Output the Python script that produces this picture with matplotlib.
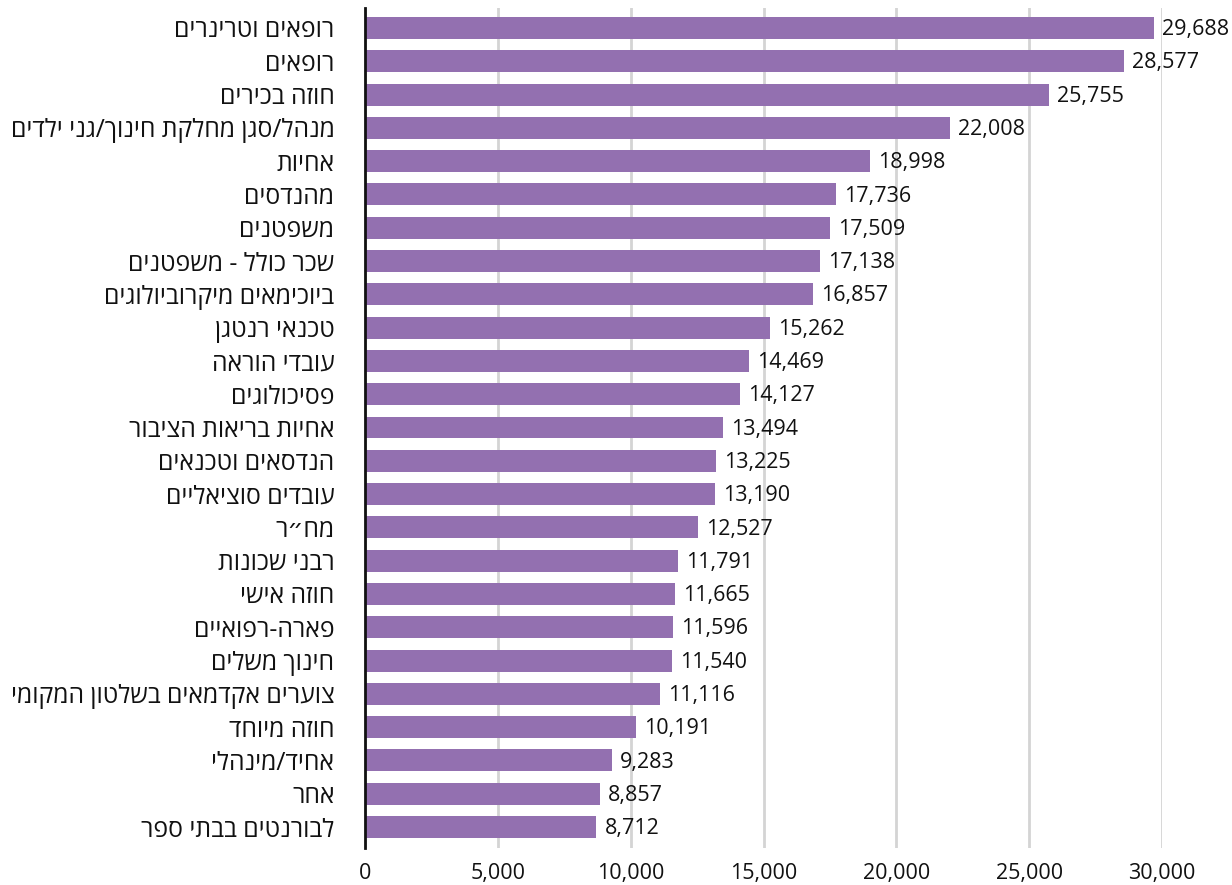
import matplotlib
matplotlib.use("Agg")
import matplotlib.pyplot as plt
from matplotlib.ticker import FuncFormatter

categories = [
    "רופאים וטרינרים", "רופאים", "חוזה בכירים", "מנהל/סגן מחלקת חינוך/גני ילדים",
    "אחיות", "מהנדסים", "משפטנים", "שכר כולל - משפטנים", "ביוכימאים מיקרוביולוגים",
    "טכנאי רנטגן", "עובדי הוראה", "פסיכולוגים", "אחיות בריאות הציבור",
    "הנדסאים וטכנאים", "עובדים סוציאליים", "מח״ר", "רבני שכונות", "חוזה אישי",
    "פארה-רפואיים", "חינוך משלים", "צוערים אקדמאים בשלטון המקומי", "חוזה מיוחד",
    "אחיד/מינהלי", "אחר", "לבורנטים בבתי ספר",
]
values = [29688, 28577, 25755, 22008, 18998, 17736, 17509, 17138, 16857, 15262,
          14469, 14127, 13494, 13225, 13190, 12527, 11791, 11665, 11596, 11540,
          11116, 10191, 9283, 8857, 8712]
xticks = [0, 5000, 10000, 15000, 20000, 25000, 30000]


def visual(s):
    # matplotlib lays text out left-to-right; reverse for RTL Hebrew display
    return s[::-1]


plt.rcParams['font.family'] = ['Open Sans', 'DejaVu Sans']

fig = plt.figure(figsize=(12.32, 8.85), dpi=100)
ax = fig.add_axes([365 / 1232, 1 - 848 / 885, (1162 - 365) / 1232, (848 - 8) / 885])

ypos = list(range(len(values)))
ax.barh(ypos, values, height=0.66, color="#9370b0", zorder=3)
ax.set_ylim(len(values) - 1 + 0.63, -0.6)
ax.set_xlim(0, 30000)

for y, v in zip(ypos, values):
    ax.text(v + 300, y + 0.05, f"{v:,}", va="center", ha="left", fontsize=15.5,
            color="#111111", zorder=4, clip_on=False)

ax.set_yticks(ypos)
ax.set_yticklabels([visual(c) for c in categories], fontsize=17.8, color="#111111")
ax.set_xticks(xticks)
ax.xaxis.set_major_formatter(FuncFormatter(lambda x, p: f"{int(x):,}"))
ax.tick_params(axis="x", length=0, pad=11, labelsize=15.5, labelcolor="#111111")
ax.tick_params(axis="y", length=0, pad=22)

ax.grid(axis="x", color="#d4d4d4", linewidth=2, zorder=0)
for s in ["top", "right", "bottom"]:
    ax.spines[s].set_visible(False)
ax.spines["left"].set_linewidth(2)
ax.spines["left"].set_color("#111111")
ax.spines["left"].set_zorder(5)

fig.savefig("out.png", dpi=100)
